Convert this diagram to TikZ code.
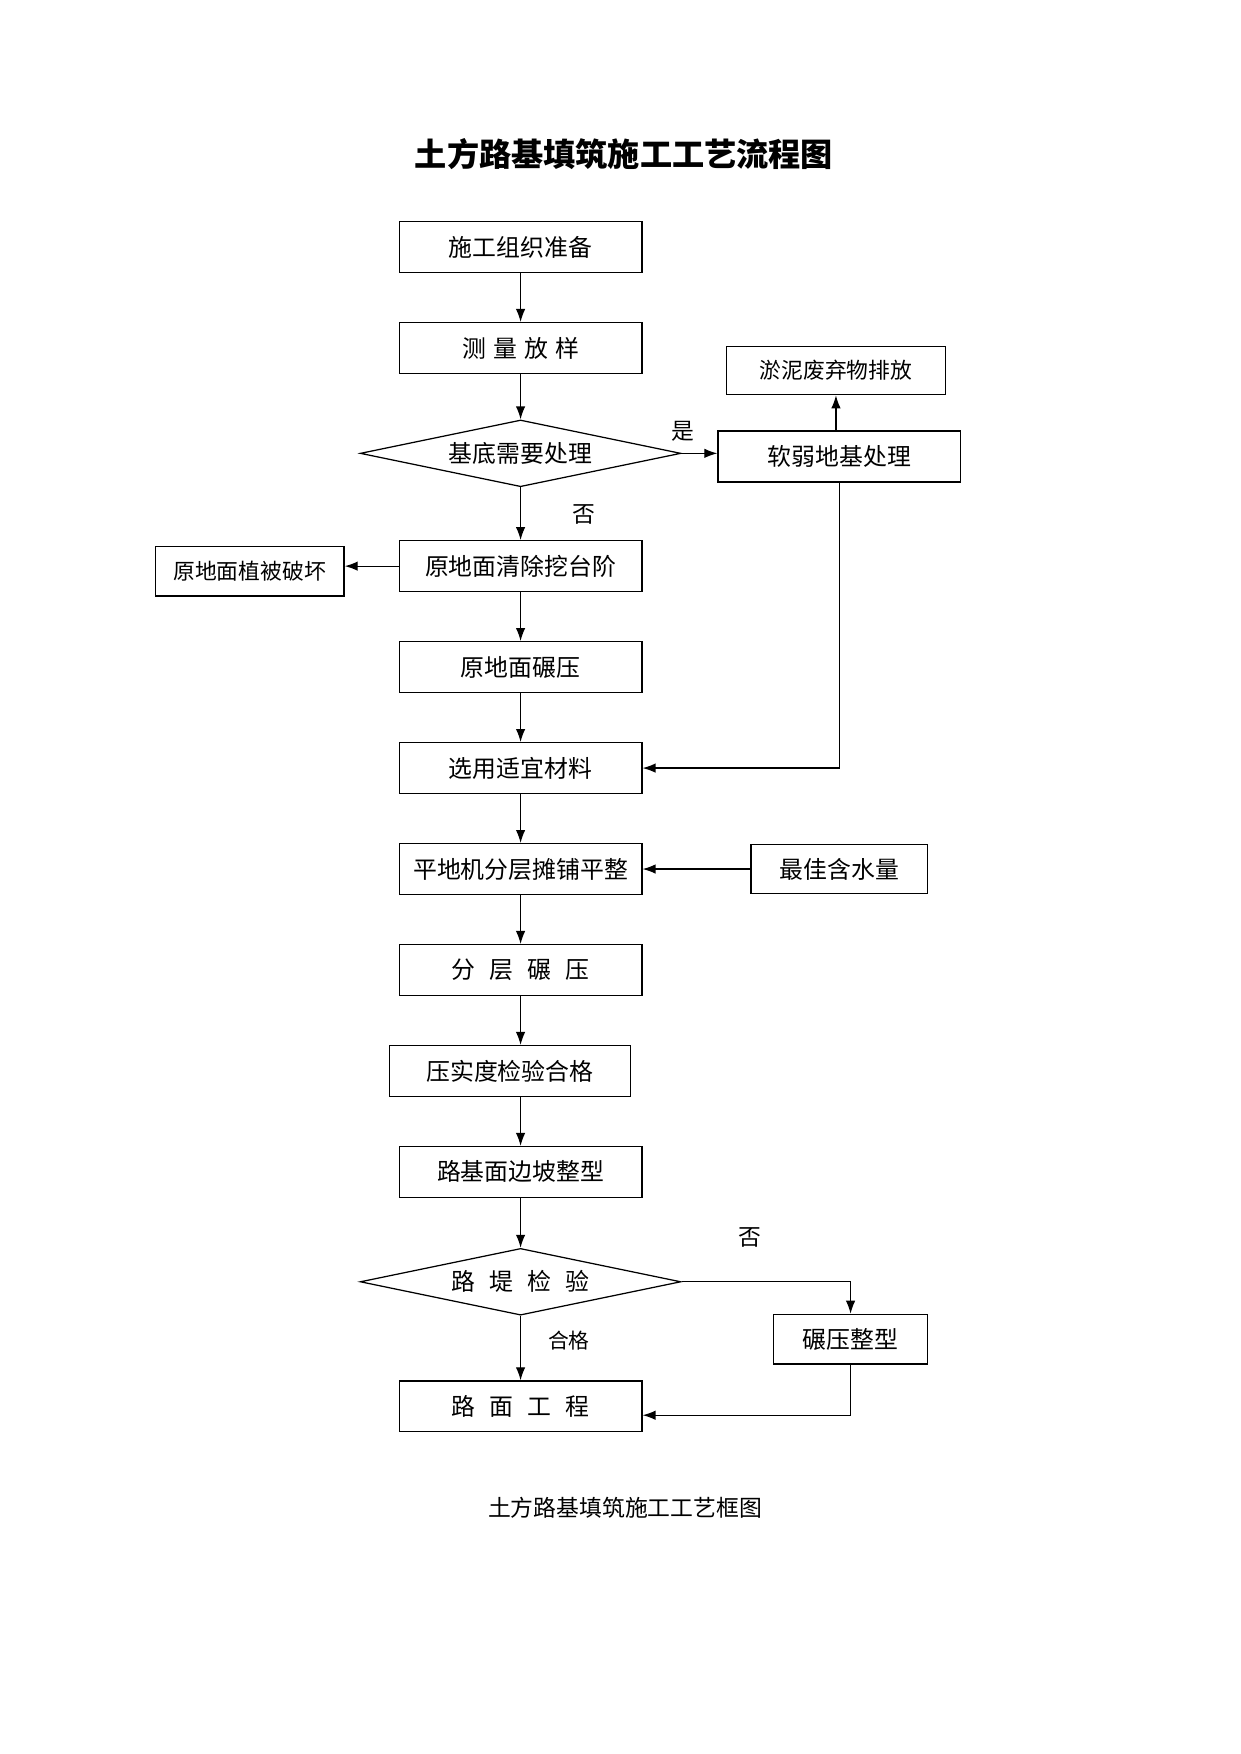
\documentclass[tikz,border=0pt]{standalone}
\usepackage{fontspec}
\setmainfont{Noto Sans CJK SC}
\usetikzlibrary{shapes.geometric,arrows.meta}
\begin{document}
\begin{tikzpicture}
	[x=0.1904mm,y=-0.1904mm,line width=0.6pt,
	arr/.style={-{Latex[length=2.2mm,width=1.6mm]}},
	proc/.style={draw,rectangle,minimum width=41.1mm,minimum height=8.6mm,inner sep=0pt,font=\fontsize{11.5pt}{12pt}\selectfont},
	side/.style={draw,rectangle,minimum height=8.4mm,inner sep=0pt},
	cond/.style={draw,diamond,aspect=4.75,minimum width=54.3mm,minimum height=11.3mm,inner sep=0pt,font=\fontsize{11.5pt}{12pt}\selectfont},
	tag/.style={inner sep=0pt,font=\fontsize{11pt}{12pt}\selectfont}]
	\useasboundingbox (0,0) rectangle (1103,1560);
	\node (title) at (555,137) {\fontsize{15.5pt}{16pt}\selectfont\bfseries 土方路基填筑施工工艺流程图};
	% main column
	\node[proc] (zuzhi) at (463,219.7) {施工组织准备};
	\node[proc] (celiang) at (463,309.5) {测\hspace{0.3em}量\hspace{0.3em}放\hspace{0.3em}样};
	\node[cond] (jidi) at (463,403.2) {基底需要处理};
	\node[proc] (qingchu) at (463,503.5) {原地面清除挖台阶};
	\node[proc] (yuanya) at (463,593.3) {原地面碾压};
	\node[proc] (cailiao) at (463,683.1) {选用适宜材料};
	\node[proc] (tanpu) at (463,772.9) {平地机分层摊铺平整};
	\node[proc] (fenceng) at (463,862.7) {分\hspace{0.6em}层\hspace{0.6em}碾\hspace{0.6em}压};
	\node[proc,minimum width=40.9mm] (yashi) at (453.5,952.5) {压实度检验合格};
	\node[proc] (bianpo) at (463,1042.3) {路基面边坡整型};
	\node[cond] (ludi) at (463,1140) {路\hspace{0.6em}堤\hspace{0.6em}检\hspace{0.6em}验};
	\node[proc] (lumian) at (463,1250.8) {路\hspace{0.6em}面\hspace{0.6em}工\hspace{0.6em}程};
	% side boxes
	\node[side,minimum width=37.1mm,minimum height=8.2mm,font=\fontsize{10.5pt}{11pt}\selectfont] (yuni) at (743.5,329.5) {淤泥废弃物排放};
	\node[proc] (ruanruo) at (746.5,406) {软弱地基处理};
	\node[side,minimum width=32mm,font=\fontsize{10.5pt}{11pt}\selectfont] (zhibei) at (222,508) {原地面植被破坏};
	\node[side,minimum width=29.9mm,font=\fontsize{11.5pt}{12pt}\selectfont] (hanshui) at (746.5,772.9) {最佳含水量};
	\node[side,minimum width=26.1mm,font=\fontsize{11.5pt}{12pt}\selectfont] (zhengxing) at (756.5,1191) {碾压整型};
	% labels
	\node[tag] (shi) at (607,384) {是};
	\node[tag] (fou) at (519,458) {否};
	\node[tag] (fou2) at (667,1100.6) {否};
	\node[tag,font=\fontsize{10pt}{11pt}\selectfont] (hege) at (506,1192) {合格};
	\node[tag,font=\fontsize{11pt}{12pt}\selectfont] (caption) at (556,1341.4) {土方路基填筑施工工艺框图};
	% connectors
	\path[arr,draw]
	(zuzhi) edge (celiang)
	(celiang) edge (jidi)
	(jidi) edge (qingchu)
	(qingchu) edge (yuanya)
	(yuanya) edge (cailiao)
	(cailiao) edge (tanpu)
	(tanpu) edge (fenceng)
	(bianpo) edge (ludi)
	(ludi) edge (lumian);
	\draw[arr] (jidi.east) -- (jidi.east -| ruanruo.west);
	\draw[arr] (ruanruo.north -| yuni.south) -- (yuni.south);
	\draw[arr] (qingchu.west) -- (qingchu.west -| zhibei.east);
	\draw[arr] (hanshui.west) -- (hanshui.west -| tanpu.east);
	\draw[arr] (fenceng.south) -- (fenceng.south |- yashi.north);
	\draw[arr] (bianpo.north |- yashi.south) -- (bianpo.north);
	\draw[arr] (ruanruo.south) |- (cailiao.east);
	\draw[arr] (ludi.east) -| (zhengxing.north);
	\draw[arr] (zhengxing.south) |- ([yshift=-1.5mm]lumian.east);
\end{tikzpicture}
\end{document}
